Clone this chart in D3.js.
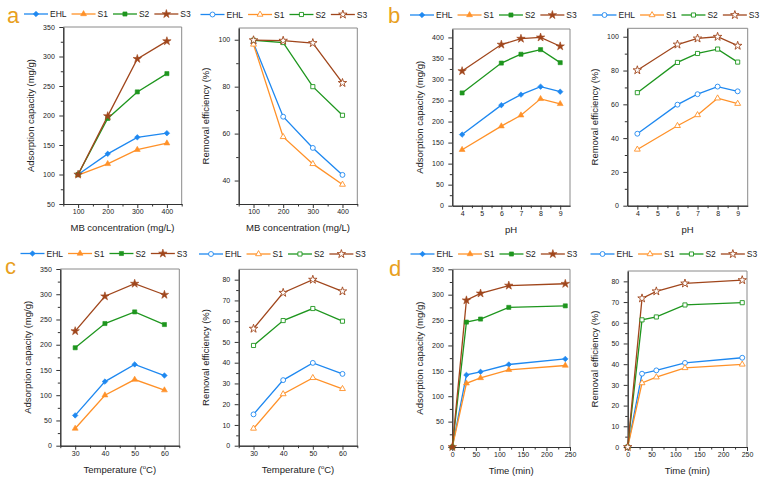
<!DOCTYPE html>
<html><head><meta charset="utf-8">
<script src="https://cdn.jsdelivr.net/npm/d3@7"></script>
<style>
html,body{margin:0;padding:0;background:#fff;}
svg{display:block;font-family:"Liberation Sans",Arial,sans-serif;}
</style></head>
<body><svg id="chart" width="763" height="481"></svg>
<script>
// ---------------- DATA ----------------
const seriesNames = ["EHL", "S1", "S2", "S3"];
const seriesColors = ["#1E88F0", "#FF9128", "#1E961E", "#A0461C"];

const concentration = [100, 200, 300, 400];
const capConc = [
  [100, 135, 163, 170],
  [99, 118, 142, 153],
  [100, 195, 240, 271],
  [100, 199, 296, 326]
];
const effConc = [
  [98.5, 67.2, 53.9, 42.4],
  [98, 58.6, 47.1, 38.3],
  [99.8, 98.8, 80, 67.8],
  [99.8, 99.6, 98.6, 81.6]
];

const pH = [4, 6, 7, 8, 9];
const capPH = [
  [169, 239, 264, 283, 271],
  [133, 189, 215, 254, 242],
  [268, 339, 360, 371, 340],
  [320, 383, 397, 400, 379]
];
const effPH = [
  [42.6, 59.8, 66, 70.5, 67.7],
  [33.3, 47.3, 53.7, 63.6, 60.4],
  [66.9, 84.8, 90.1, 92.7, 85],
  [80.2, 95.4, 99, 100, 94.7]
];

const temperature = [30, 40, 50, 60];
const capTemp = [
  [60, 127, 161, 139],
  [34, 100, 131, 110],
  [194, 242, 265, 240],
  [227, 296, 321, 299]
];
const effTemp = [
  [15.1, 31.6, 39.9, 34.6],
  [8.3, 24.9, 32.7, 27.4],
  [48.3, 60.3, 66.1, 60],
  [56.4, 73.7, 80, 74.4]
];

const time = [0, 30, 60, 120, 240];
const capTime = [
  [0, 142, 148, 162.5, 173.5],
  [0, 125.5, 136, 152, 160.5],
  [0, 246, 252, 275, 278],
  [0, 289, 302.5, 318, 321.5]
];
const effTime = [
  [0, 35.4, 37, 40.6, 43.1],
  [0, 30.9, 33.7, 38.2, 39.9],
  [0, 61.4, 62.8, 68.6, 69.7],
  [0, 71.8, 75.2, 79, 80.6]
];

const yCapLabel = "Adsorption capacity (mg/g)";
const yEffLabel = "Removal efficiency (%)";

// ---------------- LAYOUT ----------------
const range = (a, b, s) => d3.range(a, b + s / 2, s);
const panels = [
  {x: concentration, ys: capConc, filled: true, box: [63.3, 181.7, 27, 204], xd: [50, 450], yd: [50, 350],
   xt: [100, 200, 300, 400], xm: range(50, 450, 100), yt: range(50, 350, 50), ym: range(75, 325, 50),
   xl: "MB", yl: yCapLabel, leg: 24, legY: 14, letter: "a", lx: 7, ly: 23},
  {x: concentration, ys: effConc, filled: false, box: [238.7, 357.3, 28, 204], xd: [50, 450], yd: [30, 105],
   xt: [100, 200, 300, 400], xm: range(50, 450, 100), yt: [40, 60, 80, 100], ym: [30, 50, 70, 90],
   xl: "MB", yl: yEffLabel, leg: 200.5, legY: 14.5},
  {x: pH, ys: capPH, filled: true, box: [452.3, 570, 29, 205.7], xd: [3.5, 9.5], yd: [0, 420],
   xt: [4, 5, 6, 7, 8, 9], xm: range(4.5, 8.5, 1), yt: range(0, 400, 50), ym: range(25, 375, 50),
   xl: "pH", yl: yCapLabel, leg: 410, legY: 15, letter: "b", lx: 388, ly: 23},
  {x: pH, ys: effPH, filled: false, box: [627.3, 747.7, 28.3, 205.7], xd: [3.5, 9.5], yd: [0, 105],
   xt: [4, 5, 6, 7, 8, 9], xm: range(4.5, 8.5, 1), yt: range(0, 100, 20), ym: range(10, 90, 20),
   xl: "pH", yl: yEffLabel, leg: 592.5, legY: 15},
  {x: temperature, ys: capTemp, filled: true, box: [60.3, 179.3, 269, 445.7], xd: [25, 65], yd: [0, 350],
   xt: [30, 40, 50, 60], xm: [25, 35, 45, 55, 65], yt: range(0, 350, 50), ym: range(25, 325, 50),
   xl: "T", yl: yCapLabel, leg: 20.5, legY: 253.5, letter: "c", lx: 5, ly: 274},
  {x: temperature, ys: effTemp, filled: false, box: [238.7, 357.3, 269.3, 445.7], xd: [25, 65], yd: [0, 85],
   xt: [30, 40, 50, 60], xm: [25, 35, 45, 55, 65], yt: range(0, 80, 10), ym: range(5, 75, 10),
   xl: "T", yl: yEffLabel, leg: 199, legY: 254},
  {x: time, ys: capTime, filled: true, box: [452.3, 570, 269.3, 447], xd: [0, 250], yd: [0, 350],
   xt: range(0, 250, 50), xm: range(25, 225, 50), yt: range(0, 350, 50), ym: range(25, 325, 50),
   xl: "Time (min)", yl: yCapLabel, leg: 410.5, legY: 254, letter: "d", lx: 389, ly: 276},
  {x: time, ys: effTime, filled: false, box: [627.7, 747, 271, 447], xd: [0, 250], yd: [0, 85],
   xt: range(0, 250, 50), xm: range(25, 225, 50), yt: range(0, 80, 10), ym: range(5, 75, 10),
   xl: "Time (min)", yl: yEffLabel, leg: 590.5, legY: 254}
];

const svg = d3.select("#chart");

function symbolFor(i, filled) {
  if (i === 0) return filled ? {t: d3.symbolSquare, s: 15, r: 45} : {t: d3.symbolCircle, s: 19, r: 0};
  if (i === 1) return {t: d3.symbolTriangle, s: 15, r: 0};
  if (i === 2) return {t: d3.symbolSquare, s: 17, r: 0};
  return {t: d3.symbolStar, s: 22, r: 0};
}

function drawMarker(g, i, filled, x, y) {
  const sym = symbolFor(i, filled);
  g.append("path")
    .attr("d", d3.symbol().type(sym.t).size(sym.s)())
    .attr("transform", `translate(${x},${y}) rotate(${sym.r})`)
    .attr("fill", filled ? seriesColors[i] : "#fff")
    .attr("stroke", seriesColors[i])
    .attr("stroke-width", filled ? 0.6 : 0.9);
}

panels.forEach(p => {
  const [x0, x1, y0, y1] = p.box;
  const xs = d3.scaleLinear().domain(p.xd).range([x0, x1]);
  const ys = d3.scaleLinear().domain(p.yd).range([y1, y0]);
  const g = svg.append("g");

  // frame top/right
  g.append("line").attr("x1", x0).attr("x2", x1).attr("y1", y0).attr("y2", y0).attr("stroke", "#8a8a8a").attr("stroke-width", 1);
  g.append("line").attr("x1", x1).attr("x2", x1).attr("y1", y0).attr("y2", y1).attr("stroke", "#8a8a8a").attr("stroke-width", 1);

  // axes
  const styleAxis = a => {
    a.select(".domain").attr("stroke", "#333").attr("stroke-width", 1);
    a.selectAll(".tick line").attr("stroke", "#333");
    a.selectAll(".tick text").attr("fill", "#222").style("font-size", "7px").style("font-family", '"Liberation Sans",Arial,sans-serif');
  };
  const xAx = g.append("g").attr("transform", `translate(0,${y1})`)
    .call(d3.axisBottom(xs).tickValues(p.xt).tickSize(4).tickSizeOuter(0).tickPadding(1.5).tickFormat(d3.format("d")));
  styleAxis(xAx);
  const xMin = g.append("g").attr("transform", `translate(0,${y1})`)
    .call(d3.axisBottom(xs).tickValues(p.xm).tickSize(2.5).tickSizeOuter(0).tickFormat(""));
  styleAxis(xMin);
  const yAx = g.append("g").attr("transform", `translate(${x0},0)`)
    .call(d3.axisLeft(ys).tickValues(p.yt).tickSize(4).tickSizeOuter(0).tickPadding(4.5).tickFormat(d3.format("d")));
  styleAxis(yAx);
  const yMin = g.append("g").attr("transform", `translate(${x0},0)`)
    .call(d3.axisLeft(ys).tickValues(p.ym).tickSize(2.5).tickSizeOuter(0).tickFormat(""));
  styleAxis(yMin);

  // axis titles
  const xt = g.append("text").attr("x", (x0 + x1) / 2).attr("y", y1 + 27)
    .attr("text-anchor", "middle").attr("font-size", 9.5).attr("fill", "#222");
  if (p.xl === "MB") xt.text("MB concentration (mg/L)");
  else if (p.xl === "T") {
    xt.append("tspan").text("Temperature (");
    xt.append("tspan").text("o").attr("font-size", 6).attr("dy", -4);
    xt.append("tspan").text("C)").attr("dy", 4);
  } else xt.text(p.xl);
  g.append("text")
    .attr("transform", `translate(${x0 - 29.5},${(y0 + y1) / 2}) rotate(-90)`)
    .attr("text-anchor", "middle").attr("font-size", 9.5).attr("fill", "#222").text(p.yl);

  // series
  const line = d3.line();
  p.ys.forEach((vals, i) => {
    const pts = p.x.map((xv, k) => [xs(xv), ys(vals[k])]);
    g.append("path").attr("d", line(pts)).attr("fill", "none")
      .attr("stroke", seriesColors[i]).attr("stroke-width", 1.3);
  });
  p.ys.forEach((vals, i) => {
    p.x.forEach((xv, k) => drawMarker(g, i, p.filled, xs(xv), ys(vals[k])));
  });

  // legend
  let lx = p.leg;
  seriesNames.forEach((name, i) => {
    g.append("line").attr("x1", lx).attr("x2", lx + 24).attr("y1", p.legY).attr("y2", p.legY)
      .attr("stroke", seriesColors[i]).attr("stroke-width", 1.3);
    drawMarker(g, i, p.filled, lx + 12, p.legY);
    const t = g.append("text").attr("x", lx + 26).attr("y", p.legY + 3)
      .attr("font-size", 8.5).attr("fill", "#222").text(name);
    lx += 26 + t.node().getComputedTextLength() + 5;
  });

  if (p.letter) {
    g.append("text").attr("x", p.lx).attr("y", p.ly).attr("font-size", 22)
      .attr("fill", "#E8A020").text(p.letter);
  }
});
</script>
</body></html>
